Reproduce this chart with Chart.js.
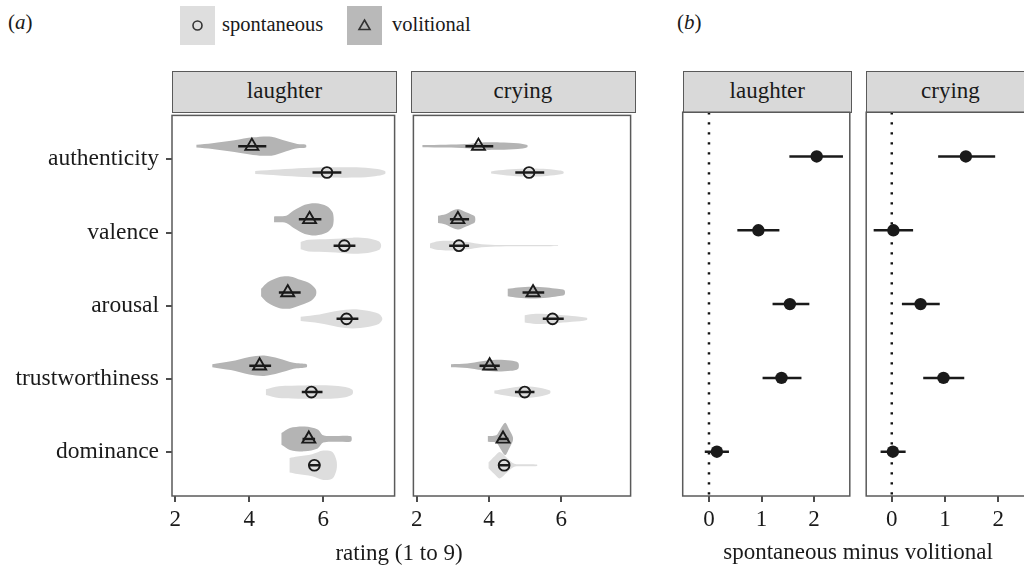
<!DOCTYPE html>
<html>
<head>
<meta charset="utf-8">
<script src="https://cdn.jsdelivr.net/npm/chart.js@4.4.1/dist/chart.umd.min.js"></script>
<style>
  html, body { margin:0; padding:0; width:1024px; height:567px; overflow:hidden; background:#fff;
    font-family:"Liberation Serif","DejaVu Serif",serif; color:#1a1a1a; }
  canvas { position:absolute; }
  .txt { position:absolute; white-space:nowrap; }
  .strip { position:absolute; box-sizing:border-box; background:#d9d9d9; border:1.5px solid #5a5a5a;
    font-size:23px; text-align:center; line-height:38px; overflow:hidden; }
  .key { position:absolute; width:35px; height:39px; }
</style>
</head>
<body>
<div class="txt" style="left:8px;top:10px;font-size:21px;line-height:24px;">(<i>a</i>)</div>
<div class="txt" style="left:677px;top:10px;font-size:21px;line-height:24px;">(<i>b</i>)</div>

<div class="key" style="left:180px;top:6px;background:#dedede;">
  <svg width="35" height="39"><circle cx="17.5" cy="19.5" r="4.5" fill="none" stroke="#333" stroke-width="1.6"/></svg>
</div>
<div class="txt" style="left:222px;top:12px;font-size:20.5px;line-height:24px;">spontaneous</div>
<div class="key" style="left:347px;top:6px;background:#b9b9b9;">
  <svg width="35" height="39"><polygon points="17.5,14 23,23.5 12,23.5" fill="none" stroke="#333" stroke-width="1.6"/></svg>
</div>
<div class="txt" style="left:392px;top:12px;font-size:20.5px;line-height:24px;">volitional</div>

<div class="strip" style="left:172px;top:70.5px;width:225px;height:42px;">laughter</div>
<div class="strip" style="left:410.5px;top:70.5px;width:225px;height:42px;">crying</div>
<div class="strip" style="left:682.5px;top:70.5px;width:169.5px;height:42px;">laughter</div>
<div class="strip" style="left:866px;top:70.5px;width:169px;height:42px;">crying</div>

<canvas id="cA1" width="404" height="440" style="left:0;top:106px;"></canvas>
<canvas id="cA2" width="236" height="440" style="left:404px;top:106px;"></canvas>
<canvas id="cB1" width="180" height="440" style="left:676px;top:106px;"></canvas>
<canvas id="cB2" width="200" height="440" style="left:860px;top:106px;"></canvas>

<div class="txt" style="left:299px;width:200px;text-align:center;top:539px;font-size:23px;line-height:27px;">rating (1 to 9)</div>
<div class="txt" style="left:708px;width:300px;text-align:center;top:538px;font-size:23px;line-height:27px;">spontaneous minus volitional</div>

<script>
// rows (top to bottom)
var rows = ['authenticity', 'valence', 'arousal', 'trustworthiness', 'dominance'];
var ratingTicks = [2, 4, 6];
var diffTicks = [0, 1, 2];

// (a) means and intervals
var laughVolMean = [4.07, 5.63, 5.04, 4.28, 5.61];
var laughVolLo   = [3.70, 5.34, 4.80, 4.00, 5.44];
var laughVolHi   = [4.46, 5.95, 5.39, 4.59, 5.78];
var laughSpoMean = [6.10, 6.57, 6.63, 5.68, 5.76];
var laughSpoLo   = [5.71, 6.28, 6.36, 5.42, 5.60];
var laughSpoHi   = [6.49, 6.87, 6.95, 5.98, 5.92];

var cryVolMean = [3.71, 3.14, 5.22, 4.02, 4.39];
var cryVolLo   = [3.35, 2.92, 4.93, 3.74, 4.26];
var cryVolHi   = [4.12, 3.45, 5.53, 4.30, 4.54];
var crySpoMean = [5.11, 3.17, 5.76, 4.99, 4.42];
var crySpoLo   = [4.73, 2.90, 5.49, 4.72, 4.28];
var crySpoHi   = [5.53, 3.45, 6.07, 5.26, 4.56];

// violin outlines: [rating, half width in rows]
var laughVolShape = [
  [[2.57,0.02],[3.0,0.04],[3.6,0.08],[4.1,0.12],[4.6,0.13],[5.0,0.07],[5.3,0.03],[5.53,0.02]],
  [[4.67,0.04],[5.0,0.05],[5.2,0.12],[5.5,0.2],[5.8,0.22],[6.1,0.18],[6.25,0.1],[6.28,0.03]],
  [[4.32,0.05],[4.5,0.14],[4.8,0.21],[5.1,0.22],[5.4,0.17],[5.65,0.12],[5.8,0.04]],
  [[3.0,0.02],[3.5,0.06],[4.0,0.12],[4.4,0.14],[4.8,0.1],[5.2,0.04],[5.55,0.02]],
  [[4.87,0.08],[5.1,0.15],[5.5,0.17],[5.85,0.13],[6.0,0.05],[6.4,0.04],[6.75,0.035]]
];
var laughSpoShape = [
  [[4.16,0.02],[4.8,0.04],[5.5,0.06],[6.2,0.07],[6.9,0.07],[7.4,0.05],[7.67,0.02]],
  [[5.39,0.05],[5.6,0.08],[6.2,0.09],[6.8,0.11],[7.2,0.1],[7.5,0.06],[7.56,0.02]],
  [[5.39,0.03],[5.9,0.06],[6.4,0.11],[6.8,0.13],[7.2,0.11],[7.5,0.07],[7.59,0.02]],
  [[4.45,0.04],[4.8,0.08],[5.5,0.09],[6.2,0.09],[6.6,0.07],[6.79,0.03]],
  [[5.09,0.1],[5.3,0.12],[5.7,0.15],[6.0,0.2],[6.25,0.18],[6.36,0.06]]
];
var cryVolShape = [
  [[2.16,0.015],[2.8,0.02],[3.4,0.03],[3.8,0.05],[4.3,0.05],[4.8,0.04],[5.06,0.015]],
  [[2.59,0.05],[2.8,0.07],[3.0,0.12],[3.15,0.14],[3.35,0.1],[3.5,0.07],[3.61,0.04]],
  [[4.52,0.05],[4.8,0.07],[5.2,0.08],[5.6,0.07],[5.9,0.05],[6.09,0.03]],
  [[2.95,0.02],[3.4,0.03],[3.8,0.06],[4.2,0.08],[4.6,0.07],[4.81,0.04]],
  [[3.97,0.04],[4.2,0.05],[4.3,0.12],[4.45,0.22],[4.55,0.14],[4.66,0.03]]
];
var crySpoShape = [
  [[4.06,0.015],[4.5,0.04],[5.0,0.055],[5.5,0.05],[5.9,0.03],[6.06,0.015]],
  [[2.37,0.03],[2.6,0.06],[3.0,0.065],[3.4,0.05],[3.8,0.02],[4.3,0.01],[5.0,0.008],[5.91,0.005]],
  [[4.99,0.05],[5.3,0.07],[5.8,0.06],[6.3,0.04],[6.71,0.015]],
  [[4.15,0.02],[4.5,0.05],[5.0,0.08],[5.4,0.06],[5.69,0.02]],
  [[3.99,0.04],[4.15,0.12],[4.3,0.18],[4.5,0.1],[4.7,0.02],[5.0,0.015],[5.33,0.01]]
];

// (b) spontaneous minus volitional
var laughDiff   = [2.05, 0.94, 1.54, 1.38, 0.15];
var laughDiffLo = [1.53, 0.54, 1.21, 1.02, -0.08];
var laughDiffHi = [2.55, 1.34, 1.91, 1.76, 0.38];
var cryDiff   = [1.39, 0.03, 0.54, 0.97, 0.02];
var cryDiffLo = [0.87, -0.34, 0.19, 0.59, -0.21];
var cryDiffHi = [1.94, 0.40, 0.90, 1.36, 0.26];

var dodge = 0.18;
var volColor = '#b4b4b4';
var spoColor = '#dddddd';
var ink = '#1a1a1a';
var serif = 'Liberation Serif';

var frame = {
    id: 'frame',
    afterDatasetsDraw: function (chart) {
        var a = chart.chartArea, ctx = chart.ctx;
        ctx.save();
        ctx.strokeStyle = '#5a5a5a';
        ctx.lineWidth = 1.5;
        ctx.strokeRect(a.left, a.top, a.right - a.left, a.bottom - a.top);
        ctx.restore();
    }
};

function violins(shapes, off, color) {
    return shapes.map(function (shape, i) {
        var yc = i + off;
        var top = shape.map(function (p) { return {x: p[0], y: yc - p[1]}; });
        var bot = shape.slice().reverse().map(function (p) { return {x: p[0], y: yc + p[1]}; });
        return {
            type: 'line', showLine: true, data: top.concat(bot),
            fill: 'shape', backgroundColor: color, borderWidth: 0, borderColor: 'rgba(0,0,0,0)',
            pointRadius: 0, tension: 0.3, order: 3
        };
    });
}

function errBars(lo, hi, off) {
    return lo.map(function (l, i) {
        return {
            type: 'line', showLine: true, data: [{x: l, y: i + off}, {x: hi[i], y: i + off}],
            borderColor: ink, borderWidth: 2.5, pointRadius: 0, fill: false, order: 2
        };
    });
}

function markers(means, off, style, r) {
    return {
        type: 'scatter',
        data: means.map(function (m, i) { return {x: m, y: i + off}; }),
        pointStyle: style, pointRadius: r, borderWidth: 1.9,
        borderColor: ink, backgroundColor: 'rgba(0,0,0,0)', order: 1
    };
}

function panel(id, xMin, xMax, xTicks, datasets, pad, showRows) {
    new Chart(document.getElementById(id), {
        type: 'scatter',
        data: {datasets: datasets},
        options: {
            responsive: false,
            animation: false,
            events: [],
            layout: {padding: pad},
            plugins: {legend: {display: false}, tooltip: {enabled: false}},
            scales: {
                x: {
                    type: 'linear', min: xMin, max: xMax,
                    afterBuildTicks: function (s) { s.ticks = xTicks.map(function (v) { return {value: v}; }); },
                    afterFit: function (s) { s.height = 50; },
                    grid: {drawOnChartArea: false, drawTicks: true, tickLength: 6, color: '#4d4d4d', lineWidth: 2},
                    border: {display: false},
                    ticks: {color: ink, font: {family: serif, size: 23}, padding: 4, maxRotation: 0}
                },
                y: {
                    type: 'linear', reverse: true, min: -0.6, max: 4.6, display: showRows,
                    afterBuildTicks: function (s) { s.ticks = rows.map(function (r, i) { return {value: i}; }); },
                    afterFit: function (s) {
                        s.width = showRows ? 172 : 0;
                        s.paddingTop = 0;
                        s.paddingBottom = 0;
                    },
                    grid: {drawOnChartArea: false, drawTicks: true, tickLength: 6, color: '#4d4d4d', lineWidth: 2},
                    border: {display: false},
                    ticks: {
                        color: ink, font: {family: serif, size: 23.5}, padding: 7,
                        callback: function (v) { return rows[v]; }
                    }
                }
            }
        },
        plugins: [frame]
    });
}

function ratingSets(volShape, spoShape, volMean, volLo, volHi, spoMean, spoLo, spoHi) {
    return []
        .concat(violins(volShape, -dodge, volColor))
        .concat(violins(spoShape, dodge, spoColor))
        .concat(errBars(volLo, volHi, -dodge))
        .concat(errBars(spoLo, spoHi, dodge))
        .concat([markers(volMean, -dodge, 'triangle', 7.5), markers(spoMean, dodge, 'circle', 5.4)]);
}

function diffSets(mean, lo, hi) {
    return [{
        type: 'line', showLine: true, data: [{x: 0, y: -0.6}, {x: 0, y: 4.6}],
        borderColor: '#111', borderWidth: 2.5, borderDash: [2.2, 7.8], pointRadius: 0, fill: false, order: 3
    }].concat(errBars(lo, hi, 0)).concat([{
        type: 'scatter',
        data: mean.map(function (m, i) { return {x: m, y: i}; }),
        pointStyle: 'circle', pointRadius: 6.2, borderWidth: 0,
        backgroundColor: ink, order: 1
    }]);
}

panel('cA1', 1.91, 7.93, ratingTicks,
    ratingSets(laughVolShape, laughSpoShape, laughVolMean, laughVolLo, laughVolHi, laughSpoMean, laughSpoLo, laughSpoHi),
    {top: 6, right: 7.3, bottom: 0, left: 0}, true);
panel('cA2', 1.91, 7.92, ratingTicks,
    ratingSets(cryVolShape, crySpoShape, cryVolMean, cryVolLo, cryVolHi, crySpoMean, crySpoLo, crySpoHi),
    {top: 6, right: 5, bottom: 0, left: 6.7}, false);
panel('cB1', -0.5, 2.68, diffTicks, diffSets(laughDiff, laughDiffLo, laughDiffHi),
    {top: 6, right: 4.3, bottom: 0, left: 6.7}, false);
panel('cB2', -0.48, 2.68, diffTicks, diffSets(cryDiff, cryDiffLo, cryDiffHi),
    {top: 6, right: 25.4, bottom: 0, left: 6}, false);
</script>
</body>
</html>
